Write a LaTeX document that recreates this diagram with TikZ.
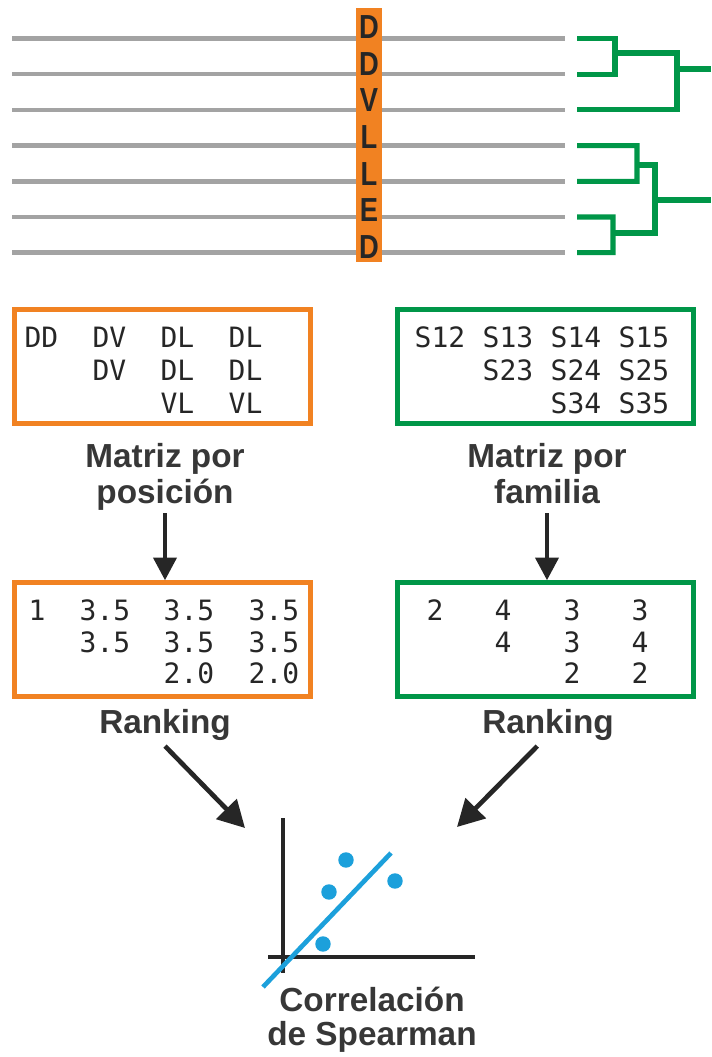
\documentclass[tikz,border=0pt]{standalone}
\usepackage{fontspec}
\setmainfont{Liberation Sans}
\setmonofont{DejaVu Sans Mono}
\usetikzlibrary{arrows.meta}

\definecolor{posorange}{RGB}{241,130,34}
\definecolor{famgreen}{RGB}{0,150,72}
\definecolor{seqgray}{RGB}{163,163,163}
\definecolor{dotblue}{RGB}{28,160,219}
\definecolor{inkgray}{RGB}{55,55,55}

\begin{document}
\begin{tikzpicture}[x=0.75pt,y=-0.75pt,
    seq line/.style={draw=seqgray,line width=3.4pt},
    tree/.style={draw=famgreen,line width=3.8pt},
    site/.style={font=\bfseries\fontsize{25}{25}\selectfont,text=black!85,inner sep=0pt,xscale=0.82},
    cell/.style={font=\ttfamily\fontsize{21}{21}\selectfont,text=black!85,inner sep=0pt},
    pos box/.style={draw=posorange,line width=3.75pt,minimum width=222pt,minimum height=85pt,inner sep=0pt},
    fam box/.style={draw=famgreen,line width=3.75pt,minimum width=222pt,minimum height=85pt,inner sep=0pt},
    caption/.style={font=\bfseries\fontsize{25}{27}\selectfont,text=inkgray,align=center,inner sep=0pt},
    flow/.style={draw=black!85,line width=3.5pt,-{Triangle[length=17pt,width=17pt]}}]
    \useasboundingbox (0,0) rectangle (711,1057);
    % alineamiento
    \foreach \i in {0,...,6} {
        \path [seq line] (12,{38.5+35.7*\i}) -- (565,{38.5+35.7*\i});
        \coordinate (leaf\i) at (577,{38.5+35.7*\i});
    }
    \fill [posorange] (356,8) rectangle (382,262);
    \foreach \s [count=\i] in {D,D,V,L,L,E,D}
        \node [site] (site\i) at (369,{27+36.7*(\i-1)}) {\s};
    % dendrograma
    \path [tree] (leaf0) -- (615,38.5) -- (615,74.2) -- (leaf1);
    \path [tree] (615,53) -- (677,53) -- (677,109.9) -- (leaf2);
    \path [tree] (677,69) -- (711,69);
    \path [tree] (leaf3) -- (637,145.6) -- (637,181.3) -- (leaf4);
    \path [tree] (leaf5) -- (613,217) -- (613,252.7) -- (leaf6);
    \path [tree] (637,165) -- (655,165) -- (655,233) -- (613,233);
    \path [tree] (655,200) -- (711,200);
    % matrices
    \node [pos box] (posmat) at (162.5,366.5) {};
    \node [fam box] (fammat) at (545.5,366.5) {};
    \foreach \t/\x/\y in {DD/41.5/337,DV/109.5/337,DL/177.5/337,DL/245.5/337,
                          DV/109.5/370,DL/177.5/370,DL/245.5/370,
                          VL/177.5/403,VL/245.5/403}
        \node [cell] at (\x,\y) {\t};
    \foreach \t/\x/\y in {S12/440/337,S13/508/337,S14/576/337,S15/644/337,
                          S23/508/370,S24/576/370,S25/644/370,
                          S34/576/403,S35/644/403}
        \node [cell] at (\x,\y) {\t};
    \node [caption, anchor=north, text depth=6pt] (poslabel) at (165,443) {Matriz por\\posición};
    \node [caption, anchor=north, text depth=6pt] (famlabel) at (547,443) {Matriz por\\familia};
    % rankings
    \node [pos box] (posrank) at (162.5,639.5) {};
    \node [fam box] (famrank) at (545.5,639.5) {};
    \foreach \t/\x/\y in {1/37/610,3.5/105/610,3.5/189/610,3.5/274/610,
                          3.5/105/642,3.5/189/642,3.5/274/642,
                          2.0/189/673,2.0/274/673}
        \node [cell] at (\x,\y) {\t};
    \foreach \t/\x/\y in {2/435/610,4/503/610,3/572/610,3/640/610,
                          4/503/642,3/572/642,4/640/642,
                          2/572/673,2/640/673}
        \node [cell] at (\x,\y) {\t};
    \draw [flow] ([yshift=-1pt]poslabel.south) -- (poslabel.south |- posrank.north);
    \draw [flow] ([yshift=-1pt]famlabel.south) -- (famlabel.south |- famrank.north);
    \node [caption, anchor=north] (posrk) at (165,709) {Ranking};
    \node [caption, anchor=north] (famrk) at (548,709) {Ranking};
    % correlacion
    \coordinate (corrleft) at (245,828);
    \coordinate (corrright) at (457,827);
    \draw [flow, -{Triangle[length=20pt,width=21pt]}] ([yshift=-4pt]posrk.south) -- (corrleft);
    \draw [flow, -{Triangle[length=20pt,width=21pt]}] ([xshift=-8pt,yshift=-4pt]famrk.south) -- (corrright);
    \draw [black!85, line width=2.5pt] (283,818) -- (283,973);
    \draw [black!85, line width=2.5pt] (268,957) -- (475,957);
    \draw [dotblue, line width=3.5pt] (263,987) -- (391,853);
    \foreach \x/\y in {346/860,329/892,395/881,323/944}
        \fill [dotblue] (\x,\y) circle [radius=5.8pt];
    \node [caption, anchor=north, font=\bfseries\fontsize{25}{25}\selectfont] (corrlabel) at (372,987) {Correlación\\de Spearman};
\end{tikzpicture}
\end{document}
